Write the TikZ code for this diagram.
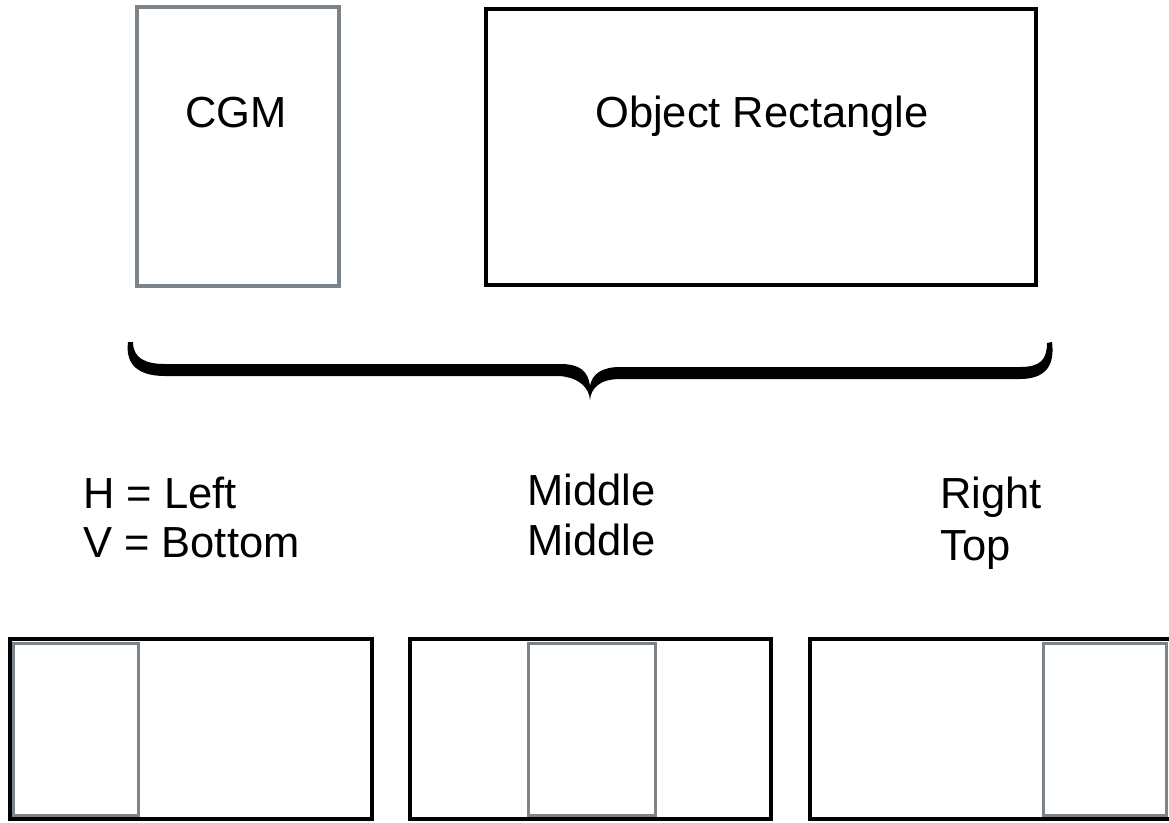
\documentclass[tikz,border=0pt]{standalone}
\usepackage{fontspec}
\setmainfont{Liberation Sans}
\definecolor{boxgray}{HTML}{7D8489}
\begin{document}
\begin{tikzpicture}[x=1pt,y=-1pt,
  lbl/.style={inner sep=0pt,anchor=base west,font=\fontsize{43.5}{50}\selectfont},
  ctr/.style={inner sep=0pt,anchor=base,font=\fontsize{43.5}{50}\selectfont},
  outerbox/.style={draw=black,line width=4pt},
  innerbox/.style={draw=boxgray,line width=3pt},
  cgmbox/.style={draw=boxgray,line width=4.5pt}]
\useasboundingbox (0,0) rectangle (1169,822);
\begin{scope}
\clip (0,0) rectangle (1169,822);
% top boxes
\draw[cgmbox] (137,7) rectangle (339,286);
\draw[outerbox] (486,9) rectangle (1036,285);
\node[ctr] (cgm) at (236,127) {CGM};
\node[ctr] (obj) at (762,127) {Object Rectangle};
% brace
\fill[black] (128,342)
  .. controls (125,366) and (140,376) .. (165,376)
  -- (560,376)
  .. controls (580,378) and (589,388) .. (590,400)
  .. controls (591,388) and (600,379) .. (620,379)
  -- (1020,379)
  .. controls (1046,379) and (1055,365) .. (1052,342)
  -- (1047,343)
  .. controls (1047,360) and (1040,367) .. (1020,367)
  -- (620,367)
  .. controls (602,367) and (592,374) .. (590,386)
  .. controls (588,371) and (580,364) .. (560,364)
  -- (165,364)
  .. controls (145,364) and (133,358) .. (133,342)
  -- cycle;
% labels
\node[lbl] (h1) at (83,508) {H = Left};
\node[lbl] (h2) at (83,557) {V = Bottom};
\node[lbl] (m1) at (527,505) {Middle};
\node[lbl] (m2) at (527,555) {Middle};
\node[lbl] (r1) at (940,508) {Right};
\node[lbl] (r2) at (940,560) {Top};
% bottom boxes
\draw[innerbox] (13,643) rectangle (138,815);
\draw[outerbox] (10,639) rectangle (372,819);
\draw[innerbox] (528,643) rectangle (655,815);
\draw[outerbox] (410,639) rectangle (771,819);
\draw[innerbox] (1043,643) rectangle (1166,815);
\draw[outerbox] (810,639) rectangle (1172,819);
\end{scope}
\end{tikzpicture}
\end{document}
